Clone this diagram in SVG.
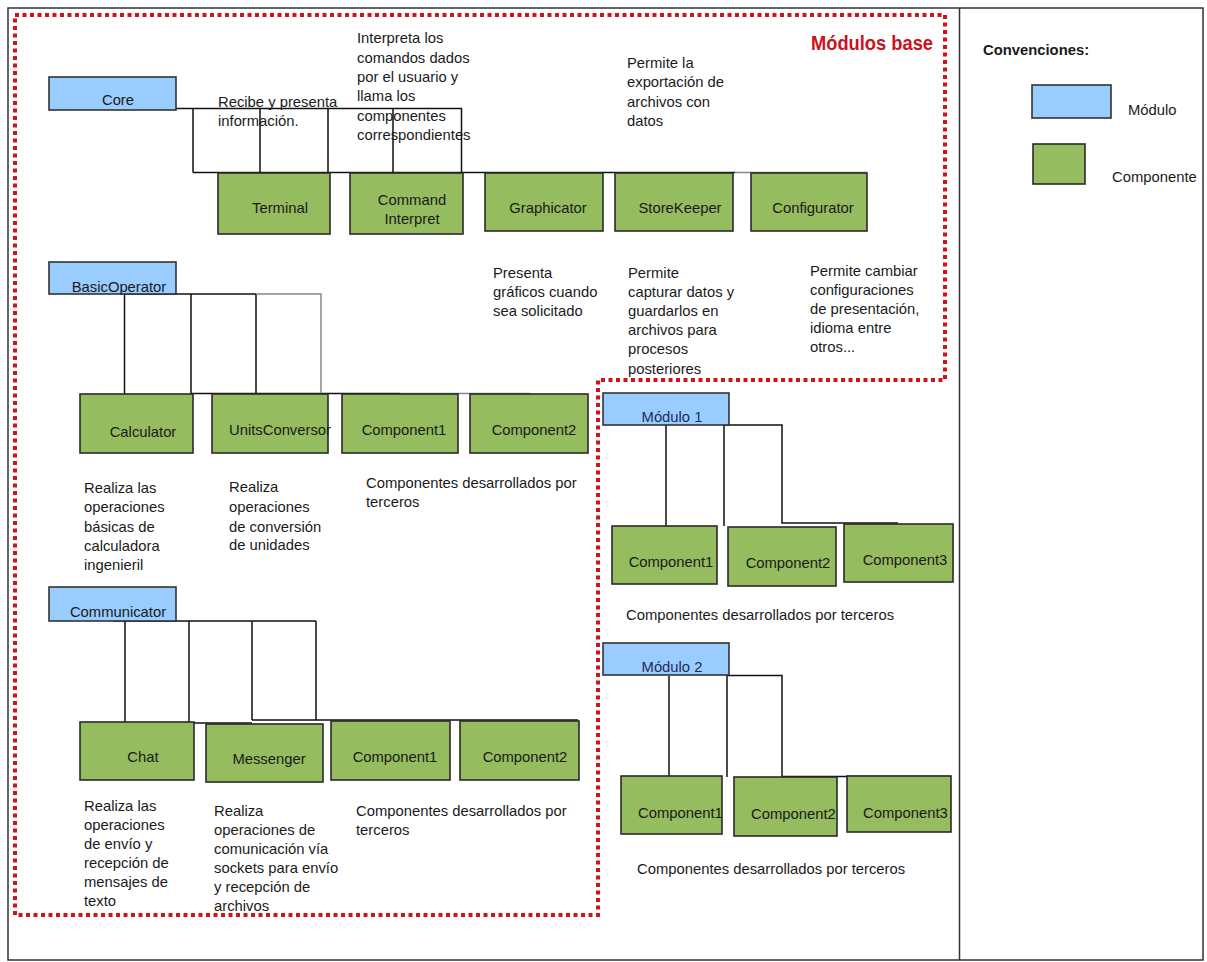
<svg xmlns="http://www.w3.org/2000/svg" width="1207" height="962" viewBox="0 0 1207 962">
<style>
text{font-family:"Liberation Sans",Arial,sans-serif;font-size:14.8px;fill:#1a1a1a}
.mod{fill:#99ccff;stroke:#333;stroke-width:1.6}
.comp{fill:#95bc5e;stroke:#2a2a2a;stroke-width:1.6}
.c{text-anchor:middle}
.mt{fill:#1f2d5c}
.ln{fill:none;stroke:#111;stroke-width:1.5}
.lg{fill:none;stroke:#888;stroke-width:1.5}
.frame{fill:none;stroke:#333;stroke-width:1.5}
.red{fill:none;stroke:#d0121b;stroke-width:4;stroke-dasharray:4 3.5}
</style>
<rect x="0" y="0" width="1207" height="962" fill="#fff"/>
<rect class="frame" x="8" y="8" width="1195" height="952"/>
<line class="frame" x1="959.5" y1="8" x2="959.5" y2="960"/>
<polygon class="red" points="15,15 945,15 945,380 598,380 598,915 15,915"/>
<text x="811" y="50" style="font-weight:bold;font-size:20px;fill:#cc1120" textLength="122" lengthAdjust="spacingAndGlyphs">Módulos base</text>

<g id="connectors">
<path class="ln" d="M113,108.5 H462 M193,108.5 V172.5 M260,108.5 V172.5 M328,108.5 V172.5 M393,108.5 V172.5 M461.5,108.5 V172.5 M193,172.5 H735"/>
<path class="lg" d="M735,172.5 H867"/>
<path class="ln" d="M124,294 H256 M124.5,294 V394 M191,294 V394 M256,294 V394 M191,393.5 H400"/>
<path class="lg" d="M256,294 H321 V393.5 M400,393.5 H530"/>
<path class="ln" d="M113,621 H316 M125,621 V722 M189,621 V723 H252 M252,621 V720 M316,621 V720 M252,720 H578"/>
<path class="ln" d="M666,425 V526 M724,425 H782 V523 H898 M724,425 V526"/>
<path class="ln" d="M669,676 V777 M727,675.5 H782 V776.5 H950 M727,675.5 V777"/>
</g>

<g id="core"><rect class="mod" x="49" y="77" width="127" height="33"/><text class="c" x="118" y="105">Core</text></g>
<g id="terminal"><rect class="comp" x="218" y="173" width="112" height="61"/><text class="c" x="280" y="213">Terminal</text></g>
<g id="command-interpret"><rect class="comp" x="350" y="173" width="113" height="61"/><text class="c" x="412" y="205">Command</text><text class="c" x="412" y="224">Interpret</text></g>
<g id="graphicator"><rect class="comp" x="485" y="173" width="118" height="58"/><text class="c" x="548" y="213">Graphicator</text></g>
<g id="storekeeper"><rect class="comp" x="615" y="173" width="118" height="58"/><text class="c" x="680" y="213">StoreKeeper</text></g>
<g id="configurator"><rect class="comp" x="751" y="173" width="116" height="58"/><text class="c" x="813" y="213">Configurator</text></g>

<g id="desc-terminal"><text x="218" y="107">Recibe y presenta</text><text x="218" y="126">información.</text></g>
<g id="desc-command"><text x="357" y="43">Interpreta los</text><text x="357" y="63">comandos dados</text><text x="357" y="82">por el usuario y</text><text x="357" y="101">llama los</text><text x="357" y="121">componentes</text><text x="357" y="140">correspondientes</text></g>
<g id="desc-export"><text x="627" y="68">Permite la</text><text x="627" y="87">exportación de</text><text x="627" y="107">archivos con</text><text x="627" y="126">datos</text></g>
<g id="desc-graph"><text x="493" y="278">Presenta</text><text x="493" y="297">gráficos cuando</text><text x="493" y="316">sea solicitado</text></g>
<g id="desc-store"><text x="628" y="278">Permite</text><text x="628" y="297">capturar datos y</text><text x="628" y="316">guardarlos en</text><text x="628" y="335">archivos para</text><text x="628" y="354">procesos</text><text x="628" y="374">posteriores</text></g>
<g id="desc-config"><text x="810" y="276">Permite cambiar</text><text x="810" y="295">configuraciones</text><text x="810" y="314">de presentación,</text><text x="810" y="333">idioma entre</text><text x="810" y="352">otros...</text></g>

<g id="basicoperator"><rect class="mod" x="49" y="262" width="127" height="32"/><text class="c" x="119" y="292">BasicOperator</text></g>
<g id="calculator"><rect class="comp" x="80" y="394" width="113" height="59"/><text class="c" x="143" y="437">Calculator</text></g>
<g id="unitsconversor"><rect class="comp" x="212" y="394" width="116" height="59"/><text x="229" y="435">UnitsConversor</text></g>
<g id="bo-component1"><rect class="comp" x="342" y="394" width="116" height="59"/><text class="c" x="404" y="435">Component1</text></g>
<g id="bo-component2"><rect class="comp" x="470" y="394" width="118" height="59"/><text class="c" x="534" y="435">Component2</text></g>
<g id="desc-calc"><text x="84" y="493">Realiza las</text><text x="84" y="512">operaciones</text><text x="84" y="532">básicas de</text><text x="84" y="551">calculadora</text><text x="84" y="570">ingenieril</text></g>
<g id="desc-units"><text x="229" y="492">Realiza</text><text x="229" y="512">operaciones</text><text x="229" y="532">de conversión</text><text x="229" y="550">de unidades</text></g>
<g id="desc-bo-terceros"><text x="366" y="488">Componentes desarrollados por</text><text x="366" y="507">terceros</text></g>

<g id="communicator"><rect class="mod" x="49" y="587" width="127" height="34"/><text class="c" x="118" y="617">Communicator</text></g>
<g id="chat"><rect class="comp" x="80" y="722" width="114" height="58"/><text class="c" x="143" y="762">Chat</text></g>
<g id="messenger"><rect class="comp" x="206" y="724" width="117" height="58"/><text class="c" x="269" y="764">Messenger</text></g>
<g id="co-component1"><rect class="comp" x="331" y="721" width="119" height="59"/><text class="c" x="395" y="762">Component1</text></g>
<g id="co-component2"><rect class="comp" x="460" y="721" width="119" height="59"/><text class="c" x="525" y="762">Component2</text></g>
<g id="desc-chat"><text x="84" y="811">Realiza las</text><text x="84" y="830">operaciones</text><text x="84" y="849">de envío y</text><text x="84" y="868">recepción de</text><text x="84" y="887">mensajes de</text><text x="84" y="906">texto</text></g>
<g id="desc-messenger"><text x="214" y="816">Realiza</text><text x="214" y="835">operaciones de</text><text x="214" y="854">comunicación vía</text><text x="214" y="873">sockets para envío</text><text x="214" y="892">y recepción de</text><text x="214" y="911">archivos</text></g>
<g id="desc-co-terceros"><text x="356" y="816">Componentes desarrollados por</text><text x="356" y="835">terceros</text></g>

<g id="modulo1"><rect class="mod" x="603" y="393" width="126" height="32"/><text class="c mt" x="672" y="422">Módulo 1</text></g>
<g id="m1-component1"><rect class="comp" x="612" y="526" width="105" height="58"/><text class="c" x="671" y="567">Component1</text></g>
<g id="m1-component2"><rect class="comp" x="728" y="527" width="108" height="59"/><text class="c" x="788" y="568">Component2</text></g>
<g id="m1-component3"><rect class="comp" x="844" y="524" width="109" height="58"/><text class="c" x="905" y="565">Component3</text></g>
<g id="desc-m1"><text x="626" y="620">Componentes desarrollados por terceros</text></g>

<g id="modulo2"><rect class="mod" x="603" y="643" width="126" height="32"/><text class="c mt" x="672" y="672">Módulo 2</text></g>
<g id="m2-component1"><rect class="comp" x="621" y="776" width="101" height="58"/><text x="638" y="818">Component1</text></g>
<g id="m2-component2"><rect class="comp" x="734" y="777" width="103" height="59"/><text x="751" y="819">Component2</text></g>
<g id="m2-component3"><rect class="comp" x="847" y="776" width="104" height="56"/><text x="863" y="818">Component3</text></g>
<g id="desc-m2"><text x="637" y="874">Componentes desarrollados por terceros</text></g>

<g id="legend">
<text x="983" y="55" style="font-weight:bold">Convenciones:</text>
<rect class="mod" x="1032" y="85" width="79" height="33"/>
<text x="1128" y="115">Módulo</text>
<rect class="comp" x="1033" y="144" width="52" height="40"/>
<text x="1112" y="182">Componente</text>
</g>
</svg>
